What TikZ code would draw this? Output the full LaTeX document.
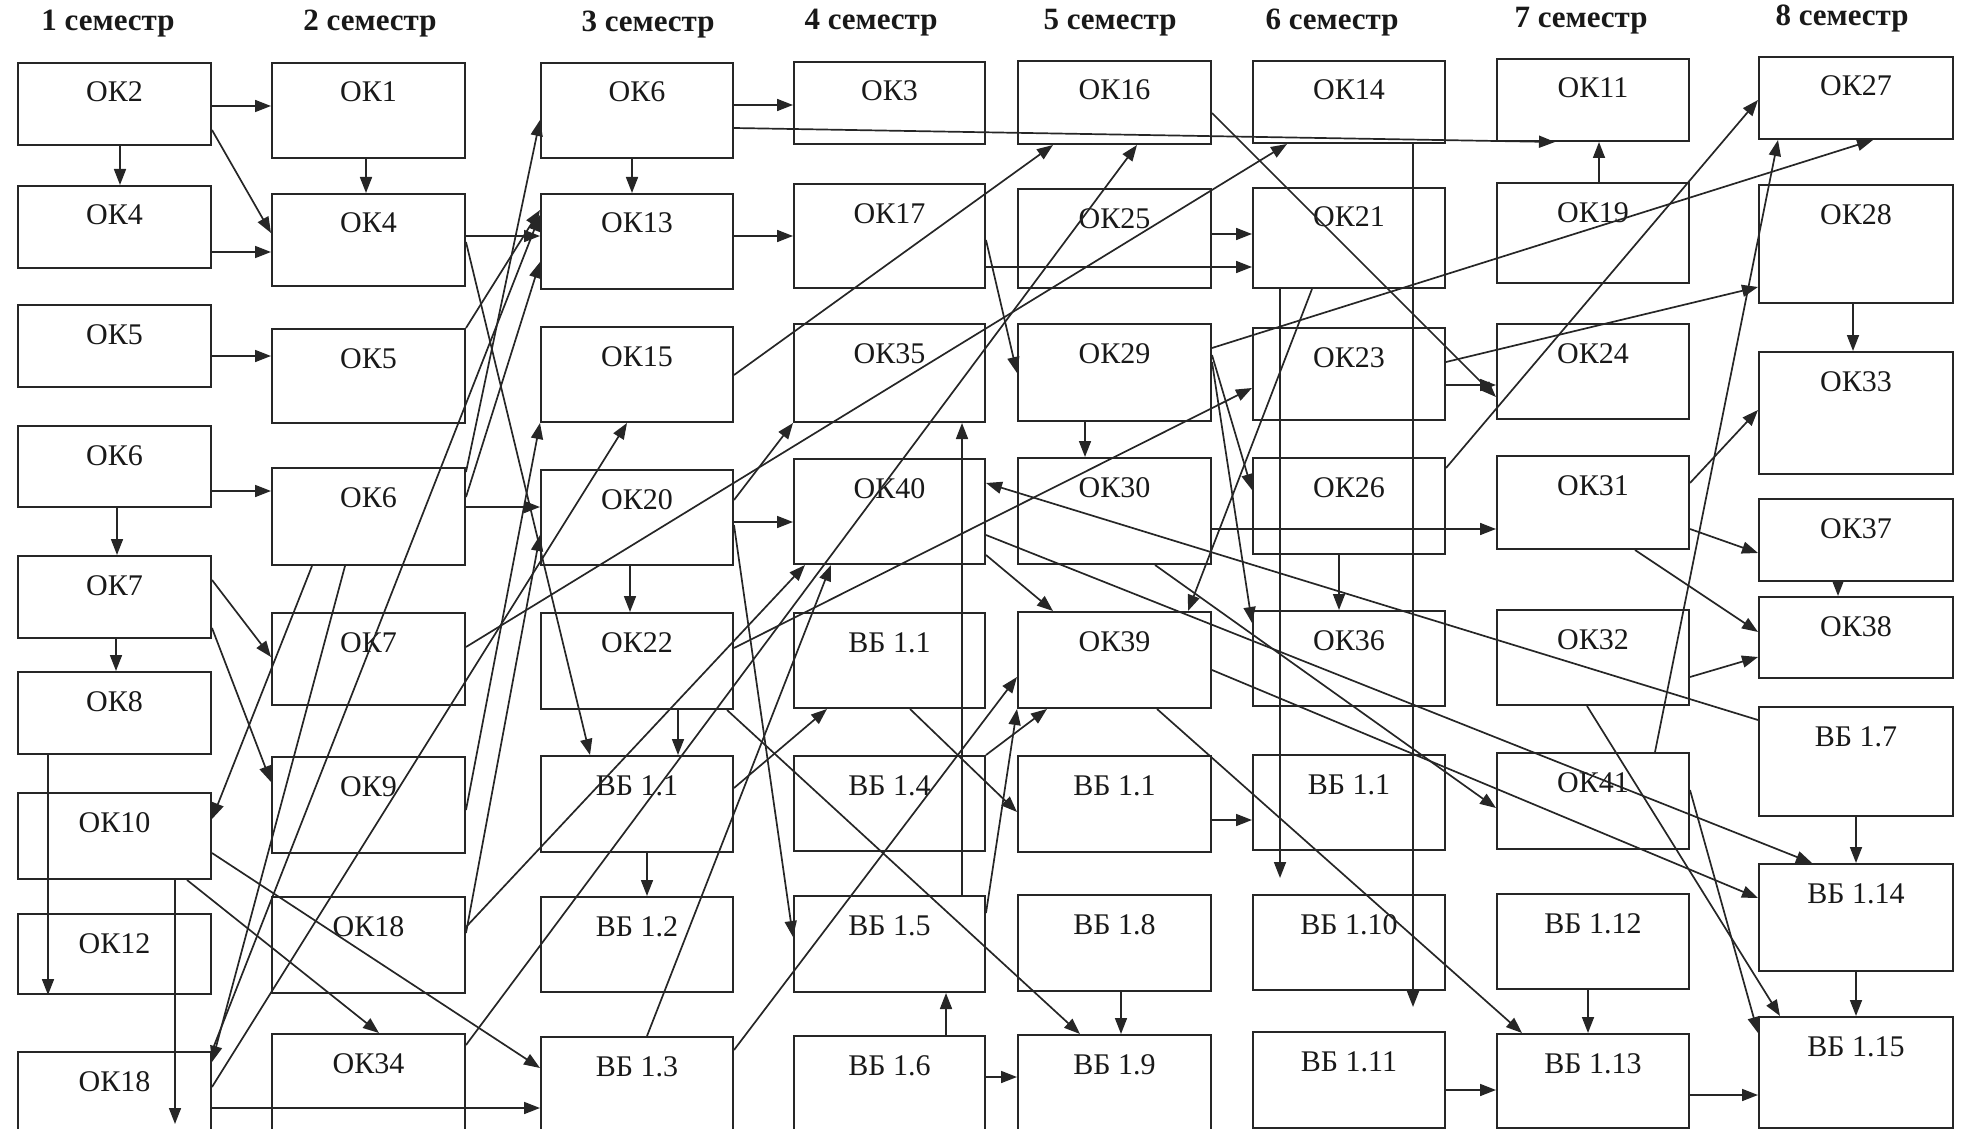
\documentclass[tikz,border=0pt]{standalone}
\usepackage{fontspec}
\setmainfont{Liberation Serif}
\usetikzlibrary{arrows.meta, positioning}

\begin{document}
\begin{tikzpicture}[
    x=0.5pt, y=-0.5pt,
    font=\fontsize{15}{18}\selectfont,
    >={Triangle[length=8pt, width=6pt]},
    course_box/.style={rectangle, draw=black!85, line width=1pt, inner sep=0pt, anchor=north west},
    course_label/.style={anchor=base, inner sep=0pt, text=black!90},
    sem_title/.style={anchor=base, inner sep=0pt, text=black!90, font=\fontsize{15.5}{18}\selectfont\bfseries},
    link/.style={->, draw=black!85, line width=0.85pt}
]

    % 0. PAGE FRAME
    \useasboundingbox (0,0) rectangle (1961,1129);

    % 1. SEMESTER TITLES
    \node[sem_title] (t1) at (108,31) {1 семестр};
    \node[sem_title] (t2) at (370,31) {2 семестр};
    \node[sem_title] (t3) at (648,32) {3 семестр};
    \node[sem_title] (t4) at (871,30) {4 семестр};
    \node[sem_title] (t5) at (1110,30) {5 семестр};
    \node[sem_title] (t6) at (1332,30) {6 семестр};
    \node[sem_title] (t7) at (1581,28) {7 семестр};
    \node[sem_title] (t8) at (1842,26) {8 семестр};

    % 2. COURSE BOXES (one loop per semester column)
    \foreach \nm/\top/\bot/\txt in {ok2/62/144/ОК2, ok4/185/267/ОК4, ok5/304/386/ОК5, ok6/425/506/ОК6, ok7/555/637/ОК7, ok8/671/753/ОК8, ok10/792/878/ОК10, ok12/913/993/ОК12, ok18/1051/1140/ОК18} {
        \node[course_box, minimum width=96.5pt, minimum height={(\bot-\top)*0.5pt}] (s1\nm) at (17,\top) {};
        \node[course_label] at ([yshift=-20pt]s1\nm.north) {\txt};
    }
    \foreach \nm/\top/\bot/\txt in {ok1/62/157/ОК1, ok4/193/285/ОК4, ok5/328/422/ОК5, ok6/467/564/ОК6, ok7/612/704/ОК7, ok9/756/852/ОК9, ok18/896/992/ОК18, ok34/1033/1140/ОК34} {
        \node[course_box, minimum width=96.5pt, minimum height={(\bot-\top)*0.5pt}] (s2\nm) at (271,\top) {};
        \node[course_label] at ([yshift=-20pt]s2\nm.north) {\txt};
    }
    \foreach \nm/\top/\bot/\txt in {ok6/62/157/ОК6, ok13/193/288/ОК13, ok15/326/421/ОК15, ok20/469/564/ОК20, ok22/612/708/ОК22, vb11/755/851/ВБ 1.1, vb12/896/991/ВБ 1.2, vb13/1036/1140/ВБ 1.3} {
        \node[course_box, minimum width=96pt, minimum height={(\bot-\top)*0.5pt}] (s3\nm) at (540,\top) {};
        \node[course_label] at ([yshift=-20pt]s3\nm.north) {\txt};
    }
    \foreach \nm/\top/\bot/\txt in {ok3/61/143/ОК3, ok17/183/287/ОК17, ok35/323/421/ОК35, ok40/458/563/ОК40, vb11/612/707/ВБ 1.1, vb14/755/850/ВБ 1.4, vb15/895/991/ВБ 1.5, vb16/1035/1140/ВБ 1.6} {
        \node[course_box, minimum width=95.5pt, minimum height={(\bot-\top)*0.5pt}] (s4\nm) at (793,\top) {};
        \node[course_label] at ([yshift=-20pt]s4\nm.north) {\txt};
    }
    \foreach \nm/\top/\bot/\txt in {ok16/60/143/ОК16, ok25/188/287/ОК25, ok29/323/420/ОК29, ok30/457/563/ОК30, ok39/611/707/ОК39, vb11/755/851/ВБ 1.1, vb18/894/990/ВБ 1.8, vb19/1034/1140/ВБ 1.9} {
        \node[course_box, minimum width=96.5pt, minimum height={(\bot-\top)*0.5pt}] (s5\nm) at (1017,\top) {};
        \node[course_label] at ([yshift=-20pt]s5\nm.north) {\txt};
    }
    \foreach \nm/\top/\bot/\txt in {ok14/60/142/ОК14, ok21/187/287/ОК21, ok23/327/419/ОК23, ok26/457/553/ОК26, ok36/610/705/ОК36, vb11/754/849/ВБ 1.1, vb110/894/989/ВБ 1.10, vb111/1031/1127/ВБ 1.11} {
        \node[course_box, minimum width=96pt, minimum height={(\bot-\top)*0.5pt}] (s6\nm) at (1252,\top) {};
        \node[course_label] at ([yshift=-20pt]s6\nm.north) {\txt};
    }
    \foreach \nm/\top/\bot/\txt in {ok11/58/140/ОК11, ok19/182/282/ОК19, ok24/323/418/ОК24, ok31/455/548/ОК31, ok32/609/704/ОК32, ok41/752/848/ОК41, vb112/893/988/ВБ 1.12, vb113/1033/1127/ВБ 1.13} {
        \node[course_box, minimum width=96pt, minimum height={(\bot-\top)*0.5pt}] (s7\nm) at (1496,\top) {};
        \node[course_label] at ([yshift=-20pt]s7\nm.north) {\txt};
    }
    \foreach \nm/\top/\bot/\txt in {ok27/56/138/ОК27, ok28/184/302/ОК28, ok33/351/473/ОК33, ok37/498/580/ОК37, ok38/596/677/ОК38, vb17/706/815/ВБ 1.7, vb114/863/970/ВБ 1.14, vb115/1016/1127/ВБ 1.15} {
        \node[course_box, minimum width=97pt, minimum height={(\bot-\top)*0.5pt}] (s8\nm) at (1758,\top) {};
        \node[course_label] at ([yshift=-20pt]s8\nm.north) {\txt};
    }
    \coordinate (s1tail) at (175,1124);

    % 3. LINKS: SEMESTER 1 -> 2
    \draw[link] (s1ok2.east |- 0,106) -- (s2ok1.west |- 0,106);
    \draw[link] (s1ok2.south -| 120,0) -- (s1ok4.north -| 120,0);
    \draw[link] (s1ok2.east |- 0,130) -- (s2ok4.west |- 0,233);
    \draw[link] (s1ok4.east |- 0,252) -- (s2ok4.west |- 0,252);
    \draw[link] (s2ok1.south -| 366,0) -- (s2ok4.north -| 366,0);
    \draw[link] (s1ok5.east |- 0,356) -- (s2ok5.west |- 0,356);
    \draw[link] (s1ok6.east |- 0,491) -- (s2ok6.west |- 0,491);
    \draw[link] (s1ok6.south -| 117,0) -- (s1ok7.north -| 117,0);
    \draw[link] (s1ok7.south -| 116,0) -- (s1ok8.north -| 116,0);
    \draw[link] (s1ok7.east |- 0,580) -- (s2ok7.west |- 0,657);
    \draw[link] (s1ok7.east |- 0,628) -- (s2ok9.west |- 0,782);
    \draw[link] (s1ok8.south -| 48,0) -- (s1ok12.south -| 48,0);
    \draw[link] (s2ok6.south -| 312,0) -- (s1ok10.east |- 0,819);
    \draw[link] (s2ok6.south -| 345,0) -- (s1ok18.east |- 0,1062);
    \draw[link] (s1ok10.south -| 175,0) -- (s1tail);
    \draw[link] (s1ok10.south -| 187,0) -- (s2ok34.north -| 379,0);
    \draw[link] (s1ok10.east |- 0,853) -- (s3vb13.west |- 0,1068);
    \draw[link] (s1ok18.east |- 0,1108) -- (s3vb13.west |- 0,1108);

    % 4. LINKS: SEMESTER 2 -> 3
    \draw[link] (s2ok4.east |- 0,236) -- (s3ok13.west |- 0,236);
    \draw[link] (s2ok4.east |- 0,242) -- (s3vb11.north -| 590,0);
    \draw[link] (s2ok5.north east) -- (s3ok13.west |- 0,210);
    \draw[link] (s2ok6.east |- 0,472) -- (s3ok6.west |- 0,120);
    \draw[link] (s2ok6.east |- 0,497) -- (s3ok13.west |- 0,262);
    \draw[link] (s2ok6.east |- 0,507) -- (s3ok20.west |- 0,507);
    \draw[link] (s1ok18.north east) -- (s3ok13.west |- 0,215);
    \draw[link] (s1ok18.east |- 0,1087) -- (s3ok15.south -| 627,0);
    \draw[link] (s2ok9.east |- 0,810) -- (s3ok15.south west);
    \draw[link] (s2ok18.east |- 0,933) -- (s3ok20.west |- 0,535);
    \draw[link] (s2ok18.east |- 0,927) -- (s4ok40.south -| 805,0);
    \draw[link] (s2ok34.east |- 0,1045) -- (s5ok16.south -| 1137,0);
    \draw[link] (s2ok7.east |- 0,647) -- (s6ok14.south -| 1287,0);

    % 5. LINKS: SEMESTER 3 -> 4
    \draw[link] (s3ok6.south -| 632,0) -- (s3ok13.north -| 632,0);
    \draw[link] (s3ok6.east |- 0,105) -- (s4ok3.west |- 0,105);
    \draw[link] (s3ok6.east |- 0,128) -- (s7ok11.south -| 1555,0);
    \draw[link] (s3ok13.east |- 0,236) -- (s4ok17.west |- 0,236);
    \draw[link] (s3ok15.east |- 0,375) -- (s5ok16.south -| 1053,0);
    \draw[link] (s3ok20.east |- 0,500) -- (s4ok35.south west);
    \draw[link] (s3ok20.east |- 0,522) -- (s4ok40.west |- 0,522);
    \draw[link] (s3ok20.south -| 630,0) -- (s3ok22.north -| 630,0);
    \draw[link] (s3ok20.east |- 0,525) -- (s4vb15.west |- 0,937);
    \draw[link] (s3ok22.south -| 678,0) -- (s3vb11.north -| 678,0);
    \draw[link] (s3ok22.east |- 0,648) -- (s6ok23.west |- 0,388);
    \draw[link] (s3ok22.south -| 727,0) -- (s5vb19.north -| 1080,0);
    \draw[link] (s3vb11.south -| 647,0) -- (s3vb12.north -| 647,0);
    \draw[link] (s3vb11.east |- 0,788) -- (s4vb11.south -| 827,0);
    \draw[link] (s3vb13.north -| 647,0) -- (s4ok40.south -| 831,0);
    \draw[link] (s3vb13.east |- 0,1050) -- (s5ok39.west |- 0,677);

    % 6. LINKS: SEMESTER 4 -> 5
    \draw[link] (s4ok17.east |- 0,267) -- (s6ok21.west |- 0,267);
    \draw[link] (s4ok17.east |- 0,240) -- (s5ok29.west |- 0,373);
    \draw[link] (s4vb15.north -| 962,0) -- (s4ok35.south -| 962,0);
    \draw[link] (s4vb16.north -| 946,0) -- (s4vb15.south -| 946,0);
    \draw[link] (s4vb16.east |- 0,1077) -- (s5vb19.west |- 0,1077);
    \draw[link] (s4vb11.south -| 910,0) -- (s5vb11.west |- 0,812);
    \draw[link] (s4vb14.north east) -- (s5ok39.south -| 1047,0);
    \draw[link] (s4vb15.east |- 0,913) -- (s5ok39.south west);
    \draw[link] (s4ok40.east |- 0,555) -- (s5ok39.north -| 1053,0);
    \draw[link] (s4ok40.east |- 0,535) -- (s8vb114.north -| 1812,0);
    \draw[link] (s8vb17.west |- 0,720) -- (s4ok40.east |- 0,483);

    % 7. LINKS: SEMESTER 5 -> 6
    \draw[link] (s5ok25.east |- 0,234) -- (s6ok21.west |- 0,234);
    \draw[link] (s5ok29.south -| 1085,0) -- (s5ok30.north -| 1085,0);
    \draw[link] (s5ok29.east |- 0,348) -- (s8ok27.south -| 1873,0);
    \draw[link] (s5ok29.east |- 0,355) -- (s6ok26.west |- 0,490);
    \draw[link] (s5ok29.east |- 0,362) -- (s6ok36.west |- 0,623);
    \draw[link] (s5ok30.east |- 0,529) -- (s7ok31.west |- 0,529);
    \draw[link] (s5ok30.south -| 1155,0) -- (s7ok41.west |- 0,808);
    \draw[link] (s6ok21.south -| 1312,0) -- (s5ok39.north -| 1188,0);
    \draw[link, shorten >=8pt] (s6ok21.south -| 1280,0) -- (s6vb110.north -| 1280,0);
    \draw[link, shorten >=12pt] (s6ok14.south -| 1413,0) -- (s6vb111.north -| 1413,0);
    \draw[link] (s5ok16.east |- 0,113) -- (s7ok24.west |- 0,397);
    \draw[link] (s6ok23.east |- 0,385) -- (s7ok24.west |- 0,385);
    \draw[link] (s6ok23.east |- 0,362) -- (s8ok28.west |- 0,287);
    \draw[link] (s6ok26.south -| 1339,0) -- (s6ok36.north -| 1339,0);
    \draw[link] (s6ok26.east |- 0,468) -- (s8ok27.west |- 0,100);
    \draw[link] (s5ok39.east |- 0,670) -- (s8vb114.west |- 0,898);
    \draw[link] (s5ok39.south -| 1157,0) -- (s7vb113.north -| 1522,0);
    \draw[link] (s5vb11.east |- 0,820) -- (s6vb11.west |- 0,820);
    \draw[link] (s5vb18.south -| 1121,0) -- (s5vb19.north -| 1121,0);
    \draw[link] (s6vb111.east |- 0,1090) -- (s7vb113.west |- 0,1090);

    % 8. LINKS: SEMESTER 7 -> 8
    \draw[link] (s7ok19.north -| 1599,0) -- (s7ok11.south -| 1599,0);
    \draw[link] (s8ok28.south -| 1853,0) -- (s8ok33.north -| 1853,0);
    \draw[link] (s7ok31.east |- 0,483) -- (s8ok33.west |- 0,410);
    \draw[link] (s7ok31.east |- 0,529) -- (s8ok37.west |- 0,553);
    \draw[link] (s7ok31.south -| 1635,0) -- (s8ok38.west |- 0,632);
    \draw[link] (s8ok37.south -| 1838,0) -- (s8ok38.north -| 1838,0);
    \draw[link] (s7ok32.east |- 0,677) -- (s8ok38.west |- 0,657);
    \draw[link] (s7ok32.south -| 1587,0) -- (s8vb115.north -| 1780,0);
    \draw[link] (s7ok41.north -| 1655,0) -- (s8ok27.south -| 1778,0);
    \draw[link] (s7ok41.east |- 0,790) -- (s8vb115.west |- 0,1033);
    \draw[link] (s8vb17.south -| 1856,0) -- (s8vb114.north -| 1856,0);
    \draw[link] (s8vb114.south -| 1856,0) -- (s8vb115.north -| 1856,0);
    \draw[link] (s7vb112.south -| 1588,0) -- (s7vb113.north -| 1588,0);
    \draw[link] (s7vb113.east |- 0,1095) -- (s8vb115.west |- 0,1095);

\end{tikzpicture}
\end{document}
